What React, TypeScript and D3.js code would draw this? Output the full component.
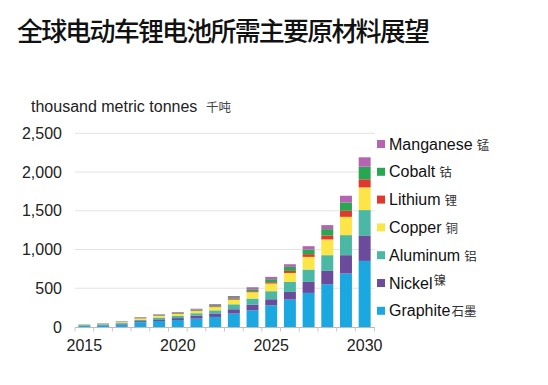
import React, { useEffect, useRef } from "react";
import * as d3 from "d3";

const years = ["2015", "2016", "2017", "2018", "2019", "2020", "2021", "2022", "2023", "2024", "2025", "2026", "2027", "2028", "2029", "2030"];
const graphite = [14, 22, 32, 60, 78, 90, 108, 130, 173, 216, 280, 354, 440, 552, 690, 853];
const nickel = [4, 6, 9, 16, 21, 25, 40, 45, 56, 74, 78, 99, 142, 172, 237, 329];
const aluminum = [8, 9, 12, 18, 23, 27, 30, 40, 64, 77, 104, 129, 160, 203, 259, 327];
const copper = [4, 6, 10, 17, 22, 26, 28, 42, 60, 82, 99, 116, 163, 203, 236, 293];
const lithium = [1, 2, 2, 4, 5, 6, 7, 9, 12, 13, 17, 26, 35, 52, 78, 104];
const cobalt = [2, 3, 5, 7, 9, 11, 13, 16, 20, 25, 39, 52, 60, 81, 108, 163];
const manganese = [2, 2, 4, 6, 7, 9, 10, 13, 15, 26, 30, 34, 43, 52, 86, 121];

const yTicks = [0, 500, 1000, 1500, 2000, 2500];
const xLabels = ["2015", "2020", "2025", "2030"];

// bottom to top stacking order
const series = [
  { key: "graphite", name: "Graphite", cn: "石墨", gap: false, sup: false, color: "#1ba8e0", values: graphite },
  { key: "nickel", name: "Nickel", cn: "镍", gap: false, sup: true, color: "#6a4b9c", values: nickel },
  { key: "aluminum", name: "Aluminum", cn: "铝", gap: true, sup: false, color: "#4bb8a6", values: aluminum },
  { key: "copper", name: "Copper", cn: "铜", gap: true, sup: false, color: "#fbe547", values: copper },
  { key: "lithium", name: "Lithium", cn: "锂", gap: true, sup: false, color: "#e2372c", values: lithium },
  { key: "cobalt", name: "Cobalt", cn: "钴", gap: true, sup: false, color: "#28a651", values: cobalt },
  { key: "manganese", name: "Manganese", cn: "锰", gap: true, sup: false, color: "#b564b1", values: manganese },
];

export default function App() {
  const svgRef = useRef<SVGSVGElement | null>(null);

  useEffect(() => {
    if (!svgRef.current) return;
    const width = 548;
    const height = 385;
    const latin = "'Liberation Sans', Arial, sans-serif";
    const cjk = "'Noto Sans CJK SC', sans-serif";

    const svg = d3.select(svgRef.current);
    svg.selectAll("*").remove();
    svg.attr("width", width).attr("height", height).attr("viewBox", `0 0 ${width} ${height}`);

    svg.append("rect").attr("width", width).attr("height", height).attr("fill", "#fff");

    const table = years.map((yr, i) => {
      const row: any = { year: yr };
      series.forEach((s) => (row[s.key] = s.values[i]));
      return row;
    });

    const x = d3.scaleBand().domain(years).range([75, 374]).paddingInner(0.36).paddingOuter(0.18);
    const y = d3.scaleLinear().domain([0, 2500]).range([327, 133.3]);

    // title
    svg
      .append("text")
      .attr("x", 17)
      .attr("y", 41)
      .attr("font-family", cjk)
      .attr("font-size", 26)
      .attr("font-weight", 500)
      .attr("fill", "#111")
      .attr("textLength", 413)
      .attr("lengthAdjust", "spacing")
      .text("全球电动车锂电池所需主要原材料展望");

    // unit label
    const unit = svg
      .append("text")
      .attr("x", 31)
      .attr("y", 112)
      .attr("font-family", latin)
      .attr("font-size", 16)
      .attr("fill", "#222");
    unit.append("tspan").text("thousand metric tonnes");
    unit.append("tspan").attr("font-family", cjk).attr("font-size", 12.5).attr("fill", "#444").attr("x", 206).text("千吨");

    // gridlines
    svg
      .append("g")
      .selectAll("line")
      .data(yTicks.filter((t) => t > 0))
      .join("line")
      .attr("x1", 75)
      .attr("x2", 375)
      .attr("y1", (d) => y(d))
      .attr("y2", (d) => y(d))
      .attr("stroke", "#e3e3e3")
      .attr("stroke-width", 1);

    // y labels
    svg
      .append("g")
      .selectAll("text")
      .data(yTicks)
      .join("text")
      .attr("x", 62)
      .attr("y", (d) => y(d) + 5.5)
      .attr("text-anchor", "end")
      .attr("font-family", latin)
      .attr("font-size", 16)
      .attr("fill", "#222")
      .text((d) => d3.format(",")(d));

    // bars
    const stack = d3.stack<any>().keys(series.map((s) => s.key));
    const layers = stack(table);
    svg
      .append("g")
      .selectAll("g")
      .data(layers)
      .join("g")
      .attr("fill", (d, i) => series[i].color)
      .selectAll("rect")
      .data((d) => d)
      .join("rect")
      .attr("x", (d) => x(d.data.year) as number)
      .attr("width", x.bandwidth())
      .attr("y", (d) => y(d[1]))
      .attr("height", (d) => y(d[0]) - y(d[1]));

    // x axis
    const axis = svg.append("g");
    axis
      .append("line")
      .attr("x1", 75)
      .attr("x2", 375)
      .attr("y1", 327.5)
      .attr("y2", 327.5)
      .attr("stroke", "#bbb");
    const step = x.step();
    const bounds = years.map((yr) => (x(yr) as number) - (step - x.bandwidth()) / 2).concat([374.5]);
    axis
      .selectAll("line.tick")
      .data(bounds)
      .join("line")
      .attr("class", "tick")
      .attr("x1", (d) => d)
      .attr("x2", (d) => d)
      .attr("y1", 327.5)
      .attr("y2", 331.5)
      .attr("stroke", "#c8c8c8");
    axis
      .selectAll("text")
      .data(xLabels)
      .join("text")
      .attr("x", (d) => (x(d) as number) + x.bandwidth() / 2)
      .attr("y", 351)
      .attr("text-anchor", "middle")
      .attr("font-family", latin)
      .attr("font-size", 16)
      .attr("fill", "#222")
      .text((d) => d);

    // legend (top to bottom reversed order)
    const legend = svg
      .append("g")
      .selectAll("g")
      .data(series.slice().reverse())
      .join("g")
      .attr("transform", (d, i) => `translate(377,${144 + i * 27.8})`);
    legend
      .append("rect")
      .attr("x", 0)
      .attr("y", -4)
      .attr("width", 8)
      .attr("height", 8)
      .attr("fill", (d) => d.color);
    const lt = legend
      .append("text")
      .attr("x", 12)
      .attr("y", 5.5)
      .attr("font-family", latin)
      .attr("font-size", 16)
      .attr("fill", "#111");
    lt.append("tspan").text((d) => d.name);
    lt.append("tspan")
      .attr("font-family", cjk)
      .attr("font-size", 12.5)
      .attr("fill", "#333")
      .attr("dx", (d) => (d.gap ? 4 : 1))
      .attr("dy", (d) => (d.sup ? -4 : 0))
      .text((d) => d.cn);
  }, []);

  return <svg ref={svgRef} style={{ display: "block", margin: "-8px" }} />;
}
